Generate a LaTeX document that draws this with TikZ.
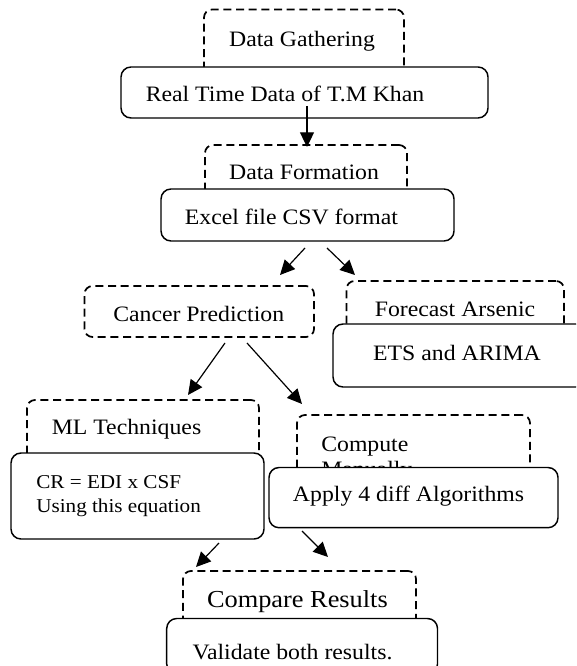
\documentclass[tikz,border=0pt]{standalone}
\usepackage{fontspec}
\setmainfont{Liberation Serif}[FakeStretch=1.08]
\usetikzlibrary{arrows.meta,fit}
\begin{document}
\begin{tikzpicture}[x=0.75pt,y=-0.75pt,
  dbox/.style={draw, line width=1.3pt, dash pattern=on 6pt off 3.5pt, rounded corners=6pt, inner sep=0pt},
  sbox/.style={draw, line width=1.1pt, fill=white, rounded corners=7.5pt, inner sep=0pt},
  txt/.style={inner sep=0pt, anchor=base, font=\fontsize{16.5}{19}\selectfont},
  ltxt/.style={txt, anchor=base west},
  stxt/.style={inner sep=0pt, anchor=base west, font=\fontsize{14.7}{17}\selectfont},
  btxt/.style={txt, font=\fontsize{18.3}{21}\selectfont},
  arr/.style={line width=0.9pt, -{Triangle[length=11pt,width=10.5pt]}}]
\useasboundingbox (0,0) rectangle (576,666);
\clip (0,0) rectangle (576,666);

% dashed boxes with their titles
\node (dg) [dbox, fit={(204,9.5) (404,100)}] {};
\node (dgt) [txt] at (302,46.7) {Data Gathering};
\node (df) [dbox, fit={(205,145) (407,220)}] {};
\node (dft) [txt] at (304,180) {Data Formation};
\node (cp) [dbox, fit={(84.5,286) (314,337)}] {};
\node (cpt) [txt] at (198.7,321.7) {Cancer Prediction};
\node (fa) [dbox, fit={(346.5,281) (564,360)}] {};
\node (fat) [txt] at (455,316) {Forecast Arsenic};
\node (ml) [dbox, fit={(27,400) (259,500)}] {};
\node (mlt) [ltxt] at (51.5,434) {ML Techniques};
\node (cm) [dbox, fit={(297,415) (530,500)}] {};
\node (cmt1) [ltxt] at (321,451) {Compute};
\node (cmt2) [ltxt] at (321,476) {Manually};
\node (cr) [dbox, fit={(183,571) (416,645)}] {};
\node (crt) [btxt] at (297.4,607) {Compare Results};

% solid boxes
\node (rt) [sbox, fit={(121,67) (488,118)}] {};
\node (rtt) [txt] at (285,102) {Real Time Data of T.M Khan};
\node (ex) [sbox, fit={(161,189) (454,241)}] {};
\node (ext) [txt] at (291.5,225) {Excel file CSV format};
\node (et) [sbox, fit={(333,324) (586,387)}] {};
\node (ett) [txt] at (457,360.7) {ETS and ARIMA};
\node (eq) [sbox, fit={(11,453) (264,539)}] {};
\node (eqt1) [stxt] at (36,488) {CR = EDI x CSF};
\node (eqt2) [stxt] at (36,512) {Using this equation};
\node (ap) [sbox, fit={(269,467.5) (558,527.7)}] {};
\node (apt) [txt] at (408.6,501.7) {Apply 4 diff Algorithms};
\node (va) [sbox, fit={(166.7,618.5) (437.5,674)}] {};
\node (vat) [txt] at (292.5,659) {Validate both results.};

% connector ends
\coordinate (a0s) at (307,106);  \coordinate (a0e) at (307,147);
\coordinate (a1s) at (305,248);  \coordinate (a1e) at (280,275);
\coordinate (a2s) at (327,248);  \coordinate (a2e) at (355,275);
\coordinate (a3s) at (225,343);  \coordinate (a3e) at (188,395);
\coordinate (a4s) at (247,343);  \coordinate (a4e) at (302,404);
\coordinate (a5s) at (219,543);  \coordinate (a5e) at (196,567);
\coordinate (a6s) at (302,531);  \coordinate (a6e) at (328,557);

\draw[arr] (a0s) -- (a0e);
\draw[arr] (a1s) -- (a1e);
\draw[arr] (a2s) -- (a2e);
\draw[arr] (a3s) -- (a3e);
\draw[arr] (a4s) -- (a4e);
\draw[arr] (a5s) -- (a5e);
\draw[arr] (a6s) -- (a6e);
\end{tikzpicture}
\end{document}
